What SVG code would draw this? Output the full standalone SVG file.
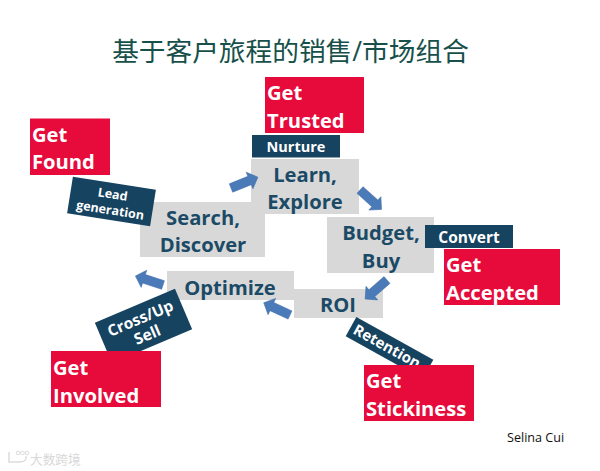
<svg xmlns="http://www.w3.org/2000/svg" width="600" height="471" viewBox="0 0 600 471">
<style>
text{font-family:"Open Sans","Noto Sans CJK SC",sans-serif}
.red{fill:#e60b3a}.navy{fill:#154360}.grey{fill:#d8d8d8}
.r{font-size:20.200px;font-weight:700;fill:#fff}
.g{font-size:20.200px;font-weight:700;fill:#1b4a66;text-anchor:middle}
.n{font-size:14.500px;font-weight:700;fill:#fff;text-anchor:middle}
.a{fill:#4a7ab8;stroke:#3f6ca6;stroke-width:.5}
</style>
<rect width="600" height="471" fill="#fff"/>
<text id="title" x="290.500" y="61" font-size="26.700" fill="#17504a" text-anchor="middle">基于客户旅程的销售/市场组合</text>
<g id="search"><rect class="grey" x="140" y="202" width="125" height="55"/><text class="g" x="203" y="225">Search,</text><text class="g" x="203" y="252">Discover</text></g>
<g id="learn"><rect class="grey" x="251" y="159" width="108" height="55"/><text class="g" x="305" y="182">Learn,</text><text class="g" x="305" y="209">Explore</text></g>
<g id="budget"><rect class="grey" x="327" y="217" width="107" height="56"/><text class="g" x="381" y="240">Budget,</text><text class="g" x="381" y="268">Buy</text></g>
<g id="optimize"><rect class="grey" x="167" y="271" width="127" height="29"/><text class="g" x="230" y="295">Optimize</text></g>
<g id="roi"><rect class="grey" x="294" y="289" width="89" height="29"/><text class="g" x="338" y="312">ROI</text></g>
<g id="connectors">
<path class="a" d="M0 -4.500H20V-9L29 0L20 9V4.500H0Z" transform="translate(231 188) rotate(-22)"/>
<path class="a" d="M0 -4.500H20V-9L29 0L20 9V4.500H0Z" transform="translate(360 190) rotate(42)"/>
<path class="a" d="M0 -4.500H20V-9L29 0L20 9V4.500H0Z" transform="translate(387 280) rotate(139)"/>
<path class="a" d="M0 -4.500H20V-9L29 0L20 9V4.500H0Z" transform="translate(290 315) rotate(205)"/>
<path class="a" d="M0 -4.500H20V-9L29 0L20 9V4.500H0Z" transform="translate(163 285) rotate(198)"/>
</g>
<g id="get-found"><rect class="red" x="30" y="118.500" width="80" height="56.500"/><text class="r" x="32" y="142">Get</text><text class="r" x="32" y="169">Found</text></g>
<g id="get-trusted"><rect class="red" x="265" y="77" width="99" height="56"/><text class="r" x="267" y="100">Get</text><text class="r" x="267" y="128">Trusted</text></g>
<g id="nurture"><rect class="navy" x="252" y="135" width="88" height="22.500"/><text class="n" x="296" y="152">Nurture</text></g>
<g id="convert"><rect class="navy" x="425" y="225" width="88" height="23"/><text class="n" style="font-size:15.500px" x="469" y="243">Convert</text></g>
<g id="get-accepted"><rect class="red" x="444" y="249" width="116" height="56"/><text class="r" x="446" y="272">Get</text><text class="r" x="446" y="300">Accepted</text></g>
<g id="lead"><g transform="translate(111.500 201.500) rotate(9)"><rect class="navy" x="-42" y="-18.500" width="84" height="37"/><text class="n" style="font-size:12.500px" x="0" y="-3">Lead</text><text class="n" style="font-size:12.500px" x="0" y="13">generation</text></g></g>
<g id="crossup"><g transform="translate(143.500 326) rotate(-23)"><rect class="navy" x="-43.500" y="-22" width="87" height="44"/><text class="n" style="font-size:15.500px" x="0" y="-3">Cross/Up</text><text class="n" style="font-size:15.500px" x="0" y="15">Sell</text></g></g>
<g id="retention"><g transform="translate(389.500 348) rotate(29)"><rect class="navy" x="-44" y="-11" width="88" height="22"/><text class="n" style="font-size:15px" x="-3" y="5">Retention</text></g></g>
<g id="get-involved"><rect class="red" x="51" y="351" width="110" height="56"/><text class="r" x="53" y="375">Get</text><text class="r" x="53" y="403">Involved</text></g>
<g id="get-stickiness"><rect class="red" x="364" y="365" width="110" height="56"/><text class="r" x="366" y="388">Get</text><text class="r" x="366" y="416">Stickiness</text></g>
<text id="author" x="507" y="442" font-size="12.600" fill="#111">Selina Cui</text>
<g id="watermark"><path d="M9 452V462H20C25 462 27 459 26 456" fill="none" stroke="#dcdcdc" stroke-width="1.500"/><g fill="none" stroke="#dcdcdc"><circle cx="18" cy="453" r="1.800"/><circle cx="22.500" cy="453" r="1.800"/><circle cx="27" cy="453" r="1.800"/></g><text x="30" y="463.500" font-size="12.700" fill="#d8d8d8">大数跨境</text></g>
</svg>
